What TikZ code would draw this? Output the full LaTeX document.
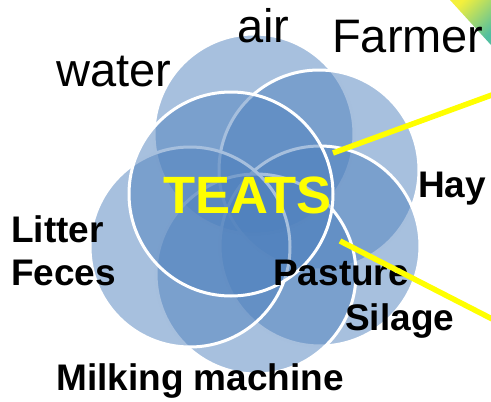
\documentclass[tikz,border=0pt]{standalone}
\usepackage{fontspec}
\setmainfont{Liberation Sans}
\usetikzlibrary{positioning}
\definecolor{Petal}{HTML}{4F81BD}
\definecolor{Glow}{HTML}{FFFF00}
\definecolor{Lemon}{HTML}{F4F03C}
\definecolor{Sea}{HTML}{52BFA0}
\tikzset{
  petal/.style={
    circle, fill=Petal, fill opacity=0.5, draw=white, line width=3pt,
    minimum size=200pt, inner sep=0pt
  },
  core/.style={petal, minimum size=204pt},
  plainlabel/.style={
    inner sep=0pt, anchor=base west, font=\fontsize{47}{50}\selectfont
  },
  boldlabel/.style={
    inner sep=0pt, anchor=base west, font=\fontsize{37}{43}\selectfont\bfseries
  },
  pointer/.style={draw=Glow, line width=5.5pt}
}

\begin{document}
\begin{tikzpicture}[x=1pt,y=-1pt]
    \clip (0,0) rectangle (491,402);
    % corner ribbon
    \shade[top color=Lemon,bottom color=Sea,shading angle=45]
      (450,0) -- (491,0) -- (491,45) -- cycle;
    % petals
    \node[petal] (top) at (254,134) {};
    \node[petal] (upright) at (319,170) {};
    \node[petal] (lowright) at (320,246) {};
    \node[petal] (bottom) at (256,274) {};
    \node[petal] (left) at (190,247) {};
    \node[core] (centre) at (231,194) {};
    % sources
    \node[plainlabel] (air) at (237,42) {air};
    \node[plainlabel] (farmer) at (332,52) {Farmer};
    \node[plainlabel] (water) at (56,86) {water};
    \node[boldlabel] (hay) at (418,197) {Hay};
    \node[boldlabel] (litter) at (11,242) {Litter};
    \node[boldlabel] (feces) at (11,285) {Feces};
    \node[boldlabel] (pasture) at (273,285) {Pasture};
    \node[boldlabel] (silage) at (345,330) {Silage};
    \node[boldlabel] (milking) at (56,390) {Milking machine};
    \node[inner sep=0pt,anchor=base west,text=Glow,
      font=\fontsize{52.5}{56}\selectfont\bfseries] (teats) at (163,213) {TEATS};
    % pointers
    \coordinate (p1) at (333,153);
    \coordinate (q1) at (500,92);
    \coordinate (p2) at (340,241);
    \coordinate (q2) at (500,323);
    \draw[pointer] (p1) -- (q1);
    \draw[pointer] (p2) -- (q2);
  \end{tikzpicture}
\end{document}
